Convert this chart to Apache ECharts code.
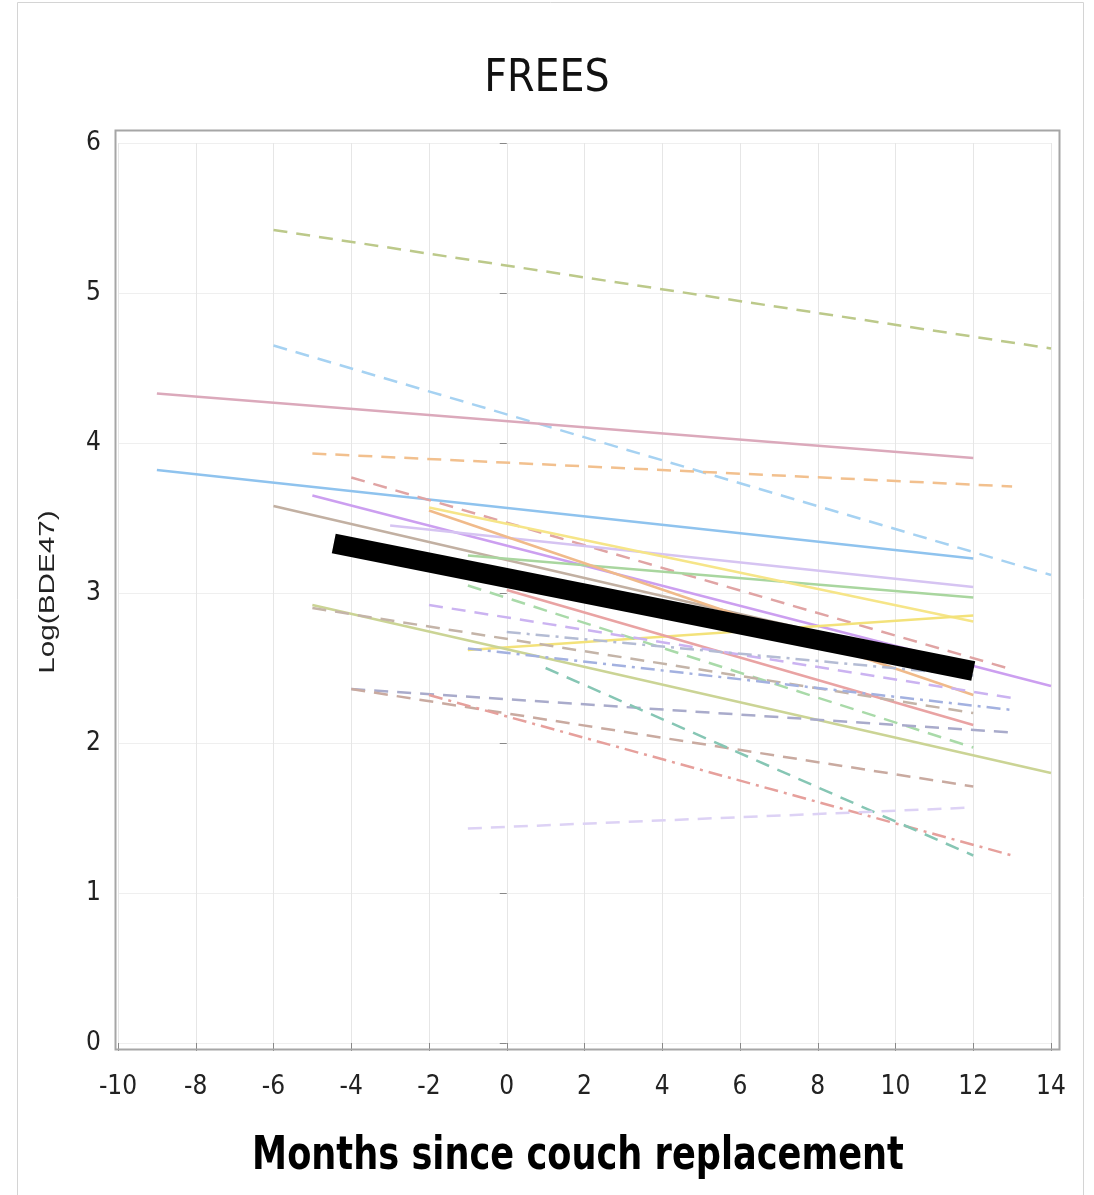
<!DOCTYPE html>
<html>
<head>
<meta charset="utf-8">
<script src="https://cdn.jsdelivr.net/npm/echarts@6/dist/echarts.min.js"></script>
<style>
html,body{margin:0;padding:0;background:#fff;}
#c{width:1094px;height:1195px;}
</style>
</head>
<body>
<div id="c"></div>
<script>
// ---- data ----
var xTicks = [-10,-8,-6,-4,-2,0,2,4,6,8,10,12,14];
var yTicks = [0,1,2,3,4,5,6];
// per-subject fitted lines: start month, start log value, end month, end log value
var startMonth = [-6,   -6,   -9,   -5,   -9,   -6,   -5,   -4,   -3,   -1,   -2,   -1,   -2,   0,    -1,   -2,   -5,   -5,   -4,   -4,   -2,   1,    -1,   -1,   0];
var startLog   = [5.42, 4.65, 4.33, 3.93, 3.82, 3.58, 3.65, 3.77, 3.45, 3.25, 3.57, 2.62, 3.55, 3.02, 3.05, 2.92, 2.92, 2.90, 2.36, 2.36, 2.32, 2.50, 1.43, 2.63, 2.74];
var endMonth   = [14,   14,   12,   13,   12,   12,   14,   13,   12,   12,   12,   12,   12,   12,   12,   13,   14,   12,   13,   12,   13,   12,   12,   13,   12];
var endLog     = [4.63, 3.12, 3.90, 3.71, 3.23, 2.50, 2.38, 2.49, 3.04, 2.97, 2.81, 2.85, 2.32, 2.12, 1.97, 2.30, 1.80, 2.20, 2.07, 1.71, 1.25, 1.25, 1.57, 2.22, 2.45];
// overall (population) trend line
var meanMonths = [-4.45, 12];
var meanLog    = [3.33, 2.48];
var xTitle = 'Months since couch replacement';
var yTitle = 'Log(BDE47)';
var chartTitle = 'FREES';

// ---- styles ----
var lineColors = ['#bcc98a','#a6d2f2','#dba9bb','#f2c08e','#8fc3ee','#c2b0a2','#cc9ff0','#e0a4a4','#d6c4f2','#a9d69f','#f6e588','#f3e27a','#f0ba8a','#e9a3a3','#a9daa9','#cbb3f1','#cbd495','#c4b4a8','#a9abcb','#c9aaa0','#e6a09c','#86c6b4','#ddd2f5','#a3b1e0','#b4bcd4'];
var D = [14,9], DD = [14,6,3,6];
var lineTypes = [D,D,'solid',D,'solid','solid','solid',D,'solid','solid','solid','solid','solid','solid',D,D,'solid',D,D,D,DD,D,D,DD,DD];

var series = [];
for (var i = 0; i < startMonth.length; i++) {
  series.push({
    type:'line', silent:true, animation:false, symbol:'none',
    data:[[startMonth[i], startLog[i]], [endMonth[i], endLog[i]]],
    lineStyle:{color:lineColors[i], width:2.5, type:lineTypes[i]},
    z:2
  });
}
series.push({
  type:'line', silent:true, animation:false, symbol:'none',
  data:[[meanMonths[0], meanLog[0]], [meanMonths[1], meanLog[1]]],
  lineStyle:{color:'#000', width:20, cap:'butt'},
  z:5
});

var narrow = "'Liberation Sans Narrow','DejaVu Sans Condensed',sans-serif";
var chart = echarts.init(document.getElementById('c'), null, {renderer:'canvas'});
chart.setOption({
  backgroundColor:'#fff',
  animation:false,
  title:{text:chartTitle, left:'center', top:53,
    textStyle:{fontFamily:narrow, fontSize:44, fontWeight:'normal', color:'#111'}},
  grid:{left:118, right:43, top:143, bottom:152},
  xAxis:{type:'value', min:-10, max:14, interval:2, offset:7,
    axisLine:{show:false},
    axisTick:{show:true, length:8, lineStyle:{color:'#888'}},
    axisLabel:{fontFamily:narrow, fontSize:26, color:'#222', margin:24},
    splitLine:{show:true, lineStyle:{color:'#e6e6e6', width:1}}
  },
  yAxis:{type:'value', min:0, max:6, interval:1, offset:3,
    axisLine:{show:false},
    axisTick:{show:true, length:7, lineStyle:{color:'#888'}},
    axisLabel:{fontFamily:narrow, fontSize:26, color:'#222', margin:14},
    splitLine:{show:true, lineStyle:{color:'#efefef', width:1}}
  },
  graphic:[
    {type:'rect', shape:{x:17.5, y:2.5, width:1066, height:1200}, style:{fill:null, stroke:'#d4d4d4', lineWidth:1}, silent:true, z:0},
    {type:'rect', shape:{x:115.5, y:130.5, width:944, height:919}, style:{fill:null, stroke:'#a6a6a6', lineWidth:2}, silent:true, z:10},
    {type:'text', x:48, y:592, rotation:Math.PI/2, scaleX:1.35,
      style:{text:yTitle, fontFamily:"'Liberation Sans',Arial,sans-serif", fontSize:22, fill:'#222', textAlign:'center', textVerticalAlign:'middle'}, silent:true},
    {type:'text', x:578, y:1157, scaleX:0.85,
      style:{text:xTitle, fontFamily:narrow, fontSize:46, fontWeight:'bold', fill:'#000', textAlign:'center', textVerticalAlign:'middle'}, silent:true}
  ],
  series:series
});
</script>
</body>
</html>
